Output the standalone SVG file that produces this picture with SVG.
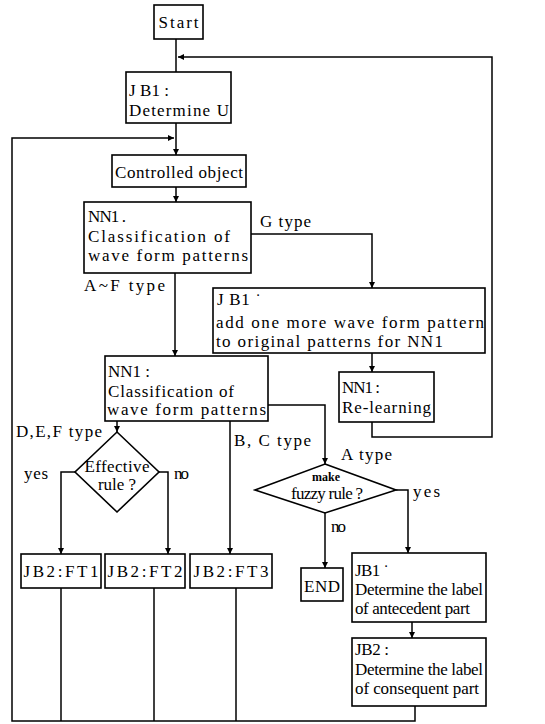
<svg xmlns="http://www.w3.org/2000/svg" width="545" height="724" viewBox="0 0 545 724">
<style>
.box{fill:#fff;stroke:#000;stroke-width:1.6}
.ln{fill:none;stroke:#000;stroke-width:1.5}
.arr{marker-end:url(#ah)}
text{font-family:"Liberation Serif","Times New Roman",serif;font-size:17px;fill:#000}
.sm{font-size:12px;font-weight:bold}
</style>
<defs>
<marker id="ah" viewBox="0 0 6 6" refX="6" refY="3" markerWidth="6" markerHeight="6" markerUnits="userSpaceOnUse" orient="auto"><path d="M0,0 L6,3 L0,6 z" fill="#000"/></marker>
</defs>
<rect width="545" height="724" fill="#fff"/>
<g id="connectors">
<path class="ln" d="M176,39 V72"/>
<path class="ln arr" d="M372,422 V437 H492 V57 H178"/>
<path class="ln arr" d="M176,123 V155"/>
<path class="ln arr" d="M415,706 V721 H12 V138 H174"/>
<path class="ln" d="M61,588 V721"/>
<path class="ln" d="M154,588 V721"/>
<path class="ln" d="M236,588 V721"/>
<path class="ln arr" d="M176,187 V202"/>
<path class="ln arr" d="M175,273 V356"/>
<path class="ln arr" d="M251,234 H372 V288"/>
<path class="ln arr" d="M372,353 V372"/>
<path class="ln arr" d="M268,405 H325 V464"/>
<path class="ln arr" d="M230,421 V554"/>
<path class="ln arr" d="M117,421 V432"/>
<path class="ln arr" d="M75,472 H61 V554"/>
<path class="ln arr" d="M159,472 H168 V554"/>
<path class="ln arr" d="M396,490 H408 V553"/>
<path class="ln arr" d="M325,513 V568"/>
<path class="ln arr" d="M412,622 V638"/>
<text x="260" y="227" textLength="51" lengthAdjust="spacing">G type</text>
<text x="84" y="291" textLength="81" lengthAdjust="spacing">A~F type</text>
<text x="16" y="437" textLength="86" lengthAdjust="spacing">D,E,F type</text>
<text x="234" y="446" textLength="77" lengthAdjust="spacing">B, C type</text>
<text x="341" y="460" textLength="51" lengthAdjust="spacing">A type</text>
<text x="24" y="479" textLength="24" lengthAdjust="spacing">yes</text>
<text x="174" y="479" textLength="15" lengthAdjust="spacing">no</text>
<text x="413" y="497" textLength="27" lengthAdjust="spacing">yes</text>
<text x="331" y="532" textLength="15" lengthAdjust="spacing">no</text>
</g>
<g id="start">
<rect class="box" x="154" y="5" width="49" height="34"/>
<text x="178.5" y="28" text-anchor="middle" textLength="40" lengthAdjust="spacing">Start</text>
</g>
<g id="jb1-u">
<rect class="box" x="126" y="72" width="105" height="51"/>
<text x="129" y="96" textLength="40" lengthAdjust="spacing">J B1 :</text>
<text x="129" y="116" textLength="100" lengthAdjust="spacing">Determine U</text>
</g>
<g id="controlled">
<rect class="box" x="112" y="155" width="134" height="32"/>
<text x="115" y="178" textLength="128" lengthAdjust="spacing">Controlled object</text>
</g>
<g id="nn1-a">
<rect class="box" x="84" y="202" width="167" height="71"/>
<text x="88" y="222" textLength="38" lengthAdjust="spacing">NN1 .</text>
<text x="88" y="242" textLength="142" lengthAdjust="spacing">Classification of</text>
<text x="88" y="261" textLength="160" lengthAdjust="spacing">wave form patterns</text>
</g>
<g id="jb1-add">
<rect class="box" x="213" y="288" width="272" height="65"/>
<text x="217" y="305" textLength="44" lengthAdjust="spacing">J B1 ˙</text>
<text x="216" y="328" textLength="268" lengthAdjust="spacing">add one more wave form pattern</text>
<text x="216" y="347" textLength="227" lengthAdjust="spacing">to original patterns for NN1</text>
</g>
<g id="relearn">
<rect class="box" x="339" y="372" width="95" height="50"/>
<text x="342" y="393" textLength="38" lengthAdjust="spacing">NN1 :</text>
<text x="342" y="413" textLength="89" lengthAdjust="spacing">Re-learning</text>
</g>
<g id="nn1-b">
<rect class="box" x="105" y="356" width="163" height="65"/>
<text x="108" y="377" textLength="42" lengthAdjust="spacing">NN1 :</text>
<text x="108" y="397" textLength="126" lengthAdjust="spacing">Classification of</text>
<text x="107" y="415" textLength="159" lengthAdjust="spacing">wave form patterns</text>
</g>
<g id="effective">
<polygon class="box" points="117,432 159,472 117,512 75,472"/>
<text x="117" y="472" text-anchor="middle" textLength="65" lengthAdjust="spacing">Effective</text>
<text x="117" y="490" text-anchor="middle" textLength="38" lengthAdjust="spacing">rule ?</text>
</g>
<g id="fuzzy">
<polygon class="box" points="325,464 396,490 325,513 255,490"/>
<text class="sm" x="326" y="481" text-anchor="middle">make</text>
<text x="327" y="499" text-anchor="middle" font-size="12.5" textLength="72" lengthAdjust="spacing">fuzzy rule ?</text>
</g>
<g id="ft1">
<rect class="box" x="21" y="554" width="80" height="34"/>
<text x="61" y="577" text-anchor="middle" textLength="75" lengthAdjust="spacing">JB2:FT1</text>
</g>
<g id="ft2">
<rect class="box" x="105" y="554" width="80" height="34"/>
<text x="145" y="577" text-anchor="middle" textLength="75" lengthAdjust="spacing">JB2:FT2</text>
</g>
<g id="ft3">
<rect class="box" x="190" y="554" width="82" height="34"/>
<text x="231" y="577" text-anchor="middle" textLength="75" lengthAdjust="spacing">JB2:FT3</text>
</g>
<g id="end">
<rect class="box" x="301" y="568" width="42" height="33"/>
<text x="322" y="592" text-anchor="middle" textLength="36" lengthAdjust="spacing">END</text>
</g>
<g id="jb1-ante">
<rect class="box" x="352" y="553" width="134" height="69"/>
<text x="355" y="576" textLength="34" lengthAdjust="spacing">JB1 ˙</text>
<text x="355" y="595" textLength="128" lengthAdjust="spacing">Determine the label</text>
<text x="355" y="614" textLength="115" lengthAdjust="spacing">of antecedent part</text>
</g>
<g id="jb2-cons">
<rect class="box" x="352" y="638" width="134" height="68"/>
<text x="355" y="655" textLength="34" lengthAdjust="spacing">JB2 :</text>
<text x="355" y="675" textLength="128" lengthAdjust="spacing">Determine the label</text>
<text x="355" y="694" textLength="124" lengthAdjust="spacing">of consequent part</text>
</g>
</svg>
